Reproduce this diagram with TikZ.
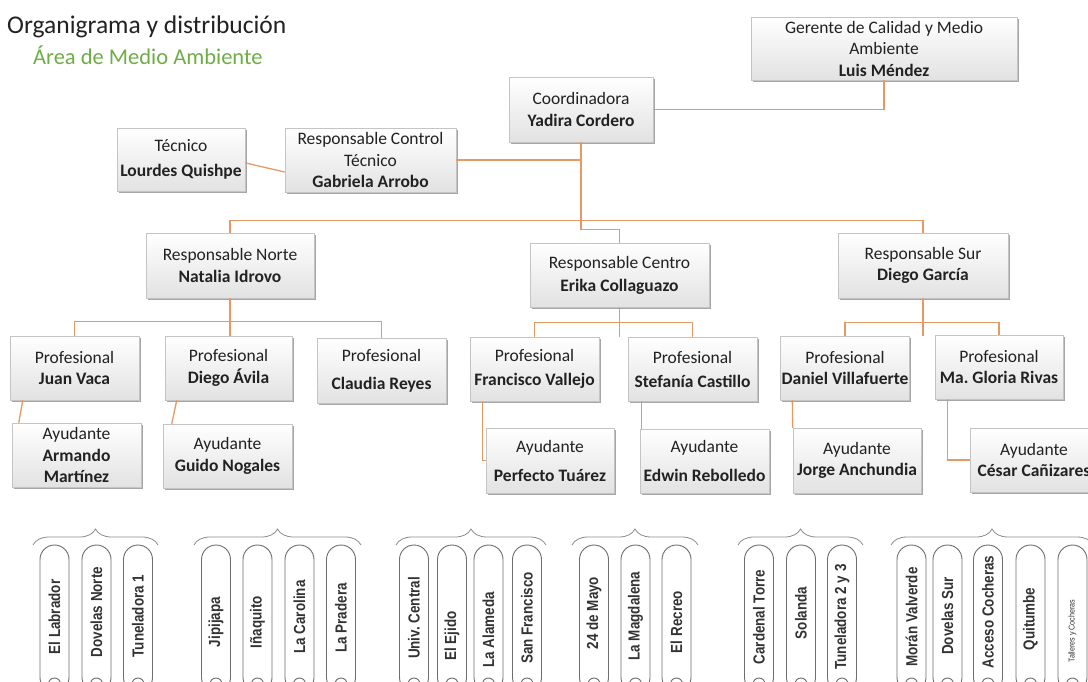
\documentclass[tikz,border=0pt]{standalone}
\usepackage{fontspec}
\setmainfont{Carlito}
\newfontfamily\estacionfont[FakeStretch=0.84]{Liberation Sans}
\usetikzlibrary{shadows,decorations.pathreplacing,calc}
\frenchspacing
\definecolor{textodark}{HTML}{222222}
\definecolor{bordecaja}{HTML}{C4C4C4}
\definecolor{sombracaja}{HTML}{E2E2E2}
\definecolor{naranja}{HTML}{E59A66}
\definecolor{verdetitulo}{HTML}{70AD47}
\definecolor{bordecapsula}{HTML}{6E6E6E}
\definecolor{textocapsula}{HTML}{333333}
\definecolor{grisllave}{HTML}{8C8C8C}
\tikzset{
	cargo/.style={rectangle, draw=bordecaja, line width=0.5pt, top color=white, bottom color=sombracaja,
		drop shadow={shadow xshift=1.5pt, shadow yshift=-2pt, fill=black, opacity=0.35},
		align=center, text=textodark, inner xsep=1pt, inner ysep=2pt, minimum height=64pt,
		font=\fontsize{17.5}{21.5}\selectfont},
	enlace/.style={draw=naranja, line width=1.3pt},
	capsula/.style={draw=bordecapsula, line width=0.9pt, fill=white, rounded corners=14.5pt},
	estacion/.style={rotate=90, inner sep=0pt, text=textocapsula, font=\estacionfont\fontsize{16}{18}\selectfont\bfseries},
	llave/.style={draw=grisllave, line width=0.8pt, decorate, decoration={brace, amplitude=16pt}}
}
\begin{document}
\begin{tikzpicture}[x=1pt, y=-1pt]
	\useasboundingbox (0,0) rectangle (1088,682);
	\fill[white] (0,0) rectangle (1088,682);
	\node[anchor=west, inner sep=0pt, text=textodark, font=\fontsize{25.5}{30}\selectfont] (titulo) at (7,27) {Organigrama y distribución};
	\node[anchor=west, inner sep=0pt, text=verdetitulo, font=\fontsize{22.5}{27}\selectfont] (subtitulo) at (33,55) {Área de Medio Ambiente};
	\node[cargo, minimum width=266pt, minimum height=63pt] (gerente) at (884,48.5) {Gerente de Calidad y Medio\\Ambiente\\\textbf{Luis Méndez}};
	\node[cargo, minimum width=144pt, minimum height=65pt] (coord) at (581,109.5) {Coordinadora\\\textbf{Yadira Cordero}};
	\node[cargo, minimum width=171pt] (control) at (370.5,160) {Responsable Control\\Técnico\\\textbf{Gabriela Arrobo}};
	\node[cargo, minimum width=128pt, minimum height=63pt] (tecnico) at (181,159.5) {Técnico\\[3.5pt]\textbf{Lourdes Quishpe}};
	\node[cargo, minimum width=168pt, minimum height=65pt] (norte) at (230,265.5) {Responsable Norte\\\textbf{Natalia Idrovo}};
	\node[cargo, minimum width=179pt] (centro) at (619.5,275) {Responsable Centro\\[1.5pt]\textbf{Erika Collaguazo}};
	\node[cargo, minimum width=170pt, minimum height=65pt] (sur) at (923,265.5) {Responsable Sur\\\textbf{Diego García}};
	\node[cargo, minimum width=129pt] (juan) at (74.5,368) {Profesional\\\textbf{Juan Vaca}};
	\node[cargo, minimum width=127pt] (diego) at (228.5,368) {Profesional\\\textbf{Diego Ávila}};
	\node[cargo, minimum width=129pt, minimum height=65pt] (claudia) at (381.5,370.5) {Profesional\\[6.5pt]\textbf{Claudia Reyes}};
	\node[cargo, minimum width=129pt] (francisco) at (534.5,369) {Profesional\\[2.5pt]\textbf{Francisco Vallejo}};
	\node[cargo, minimum width=129pt] (stefania) at (692.5,369) {Profesional\\[2.5pt]\textbf{Stefanía Castillo}};
	\node[cargo, minimum width=128pt] (daniel) at (845,368) {Profesional\\\textbf{Daniel Villafuerte}};
	\node[cargo, minimum width=128pt] (gloria) at (999,367) {Profesional\\\textbf{Ma. Gloria Rivas}};
	\node[cargo, minimum width=129pt] (armando) at (76.5,455) {Ayudante\\\textbf{Armando}\\\textbf{Martínez}};
	\node[cargo, minimum width=129pt] (guido) at (227.5,456) {Ayudante\\\textbf{Guido Nogales}};
	\node[cargo, minimum width=128pt, minimum height=65pt] (perfecto) at (550,460.5) {Ayudante\\[7.5pt]\textbf{Perfecto Tuárez}};
	\node[cargo, minimum width=129pt] (edwin) at (704.5,461) {Ayudante\\[7.5pt]\textbf{Edwin Rebolledo}};
	\node[cargo, minimum width=128pt, minimum height=65pt] (jorge) at (857,460.5) {Ayudante\\\textbf{Jorge Anchundia}};
	\node[cargo, minimum width=128pt] (cesar) at (1034,460) {Ayudante\\\textbf{César Cañizares}};
	\draw[enlace] (gerente.south) |- (coord.east);
	\draw[enlace] (control.east) -- (control.east -| coord.south);
	\draw[enlace] (tecnico.357) -- (control.188);
	\draw[enlace] (coord.south) -- ++(0,87) -| (centro.north);
	\draw[enlace] (norte.north) -- ++(0,-12) -| (sur.north);
	\draw[enlace] (norte.south) -- (norte.south |- diego.north);
	\draw[enlace] (juan.north) -- ++(0,-14) -| (claudia.north);
	\draw[enlace] (centro.south) -- (centro.south |- francisco.north);
	\draw[enlace] (francisco.north) -- ++(0,-14) -| (stefania.north);
	\draw[enlace] (sur.south) -- (sur.south |- daniel.north);
	\draw[enlace] (daniel.north) -- ++(0,-13) -| (gloria.north);
	\draw[enlace] ($(juan.south west)+(13,0)$) -- ($(armando.north west)+(7,0)$);
	\draw[enlace] ($(diego.south west)+(12,0)$) -- ($(guido.north west)+(9,0)$);
	\draw[enlace] ($(francisco.south west)+(13,0)$) |- (perfecto.west);
	\draw[enlace] ($(stefania.south west)+(14,0)$) -- ($(edwin.north west)+(2,0)$);
	\draw[enlace] ($(daniel.south west)+(12,0)$) -- (jorge.north west);
	\draw[enlace] ($(gloria.south west)+(13,0)$) |- (cesar.west);
	\foreach \xa/\xb in {33/158, 194/361, 396/546, 572/698, 738/863, 891/1093}
		\draw[llave] (\xa,545) -- (\xb,545);
	\foreach \px/\nombre/\py [count=\i] in {54.5/El Labrador/617, 96.5/Dovelas Norte/612, 138/Tuneladora 1/616,
			216/Jipijapa/622, 257.5/Iñaquito/622, 299.5/La Carolina/617, 341/La Pradera/618,
			414/Univ. Central/618, 452/El Ejido/636, 488.5/La Alameda/630, 527/San Francisco/618,
			594/24 de Mayo/613, 635.5/La Magdalena/616, 676.5/El Recreo/622,
			759/Cardenal Torre/617, 801/Solanda/613, 842/Tuneladora 2 y 3/617,
			911.5/Morán Valverde/617, 947.5/Dovelas Sur/616, 988/Acceso Cocheras/612, 1030.5/Quitumbe/619}{
		\draw[capsula] (\px-14.5,545) rectangle (\px+14.5,692);
		\draw[capsula] (\px,684) circle[radius=6pt];
		\node[estacion] (est\i) at (\px,\py) {\nombre};
	}
	\draw[capsula] (1058,545) rectangle (1087,692);
	\draw[capsula] (1072.5,684) circle[radius=6pt];
	\node[estacion, font=\estacionfont\fontsize{8.5}{10}\selectfont] (talleres) at (1072.5,631) {Talleres y Cocheras};
\end{tikzpicture}
\end{document}
